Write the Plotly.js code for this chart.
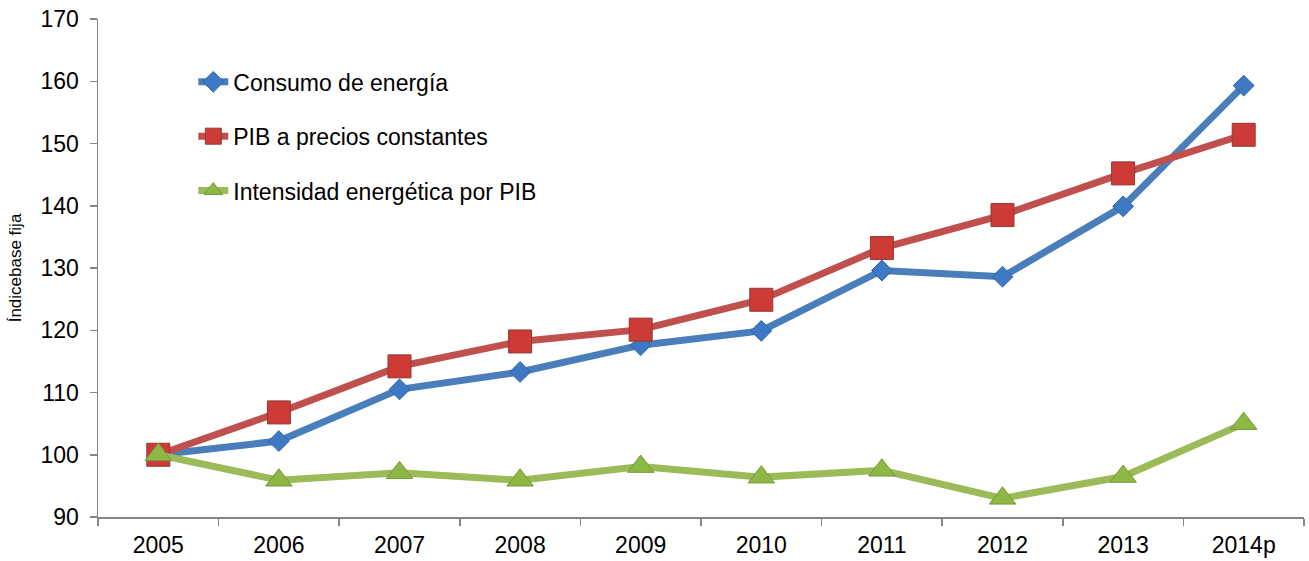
<!DOCTYPE html>
<html>
<head>
<meta charset="utf-8">
<script src="https://cdn.plot.ly/plotly-3.0.1.min.js"></script>
<style>html,body{margin:0;padding:0;background:#fff;}#chart{width:1309px;height:561px;}</style>
</head>
<body>
<div id="chart"></div>
<script>
const years = ["2005","2006","2007","2008","2009","2010","2011","2012","2013","2014p"];
const consumoEnergia = [100, 102.2, 110.5, 113.3, 117.6, 119.9, 129.6, 128.6, 139.9, 159.3];
const pibConstantes = [100, 106.8, 114.2, 118.2, 120.1, 124.9, 133.2, 138.5, 145.2, 151.4];
const intensidad = [100, 95.9, 97.1, 95.9, 98.1, 96.4, 97.5, 93.0, 96.5, 105.0];
const seriesNames = ["Consumo de energía", "PIB a precios constantes", "Intensidad energética por PIB"];

const FONT = "Liberation Sans, Arial, sans-serif";

const traces = [
  {
    x: years, y: consumoEnergia, name: seriesNames[0], type: "scatter", mode: "lines+markers",
    legendgroup: "a",
    line: {color: "#4A7EBB", width: 7},
    marker: {symbol: "diamond", size: 16, color: "#3D79C4", line: {color: "#2F62A3", width: 1}}
  },
  {
    x: years, y: pibConstantes, name: seriesNames[1], type: "scatter", mode: "lines+markers",
    legendgroup: "b",
    line: {color: "#C0504D", width: 7},
    marker: {symbol: "square", size: 23, color: "#CE3A35", line: {color: "#8E3A37", width: 1}}
  },
  {
    x: years, y: intensidad, name: seriesNames[2], type: "scatter", mode: "lines+markers",
    legendgroup: "c",
    line: {color: "#9BBB59", width: 7},
    marker: {symbol: "triangle-up", size: 23, color: "#8DB846", line: {color: "#76993A", width: 1}}
  }
];

const layout = {
  width: 1309, height: 561,
  margin: {l: 98, r: 5, t: 19, b: 44, pad: 0},
  paper_bgcolor: "#ffffff", plot_bgcolor: "#ffffff",
  font: {family: FONT, size: 22, color: "#000000"},
  showlegend: true,
  legend: {
    x: 0.079, xanchor: "left", y: 0.917, yanchor: "top",
    bgcolor: "rgba(0,0,0,0)", borderwidth: 0,
    font: {family: FONT, size: 23, color: "#000000"},
    tracegroupgap: 21.5, traceorder: "grouped"
  },
  xaxis: {
    type: "category", range: [-0.5, 9.5],
    showgrid: false, zeroline: false,
    showline: true, linecolor: "#868686", linewidth: 1.5,
    ticks: "outside", tickson: "boundaries", ticklen: 7, tickcolor: "#868686", tickwidth: 1.5,
    ticklabelstandoff: 7,
    tickfont: {family: FONT, size: 23, color: "#000000"},
    fixedrange: true
  },
  yaxis: {
    range: [90, 170], dtick: 10, tick0: 90,
    showgrid: false, zeroline: false,
    showline: true, linecolor: "#868686", linewidth: 1.5,
    ticks: "outside", ticklen: 7, tickcolor: "#868686", tickwidth: 1.5,
    ticklabelstandoff: 6,
    tickfont: {family: FONT, size: 23, color: "#000000"},
    title: {text: "Índicebase fija", font: {family: FONT, size: 17, color: "#000000"}, standoff: 14},
    fixedrange: true
  }
};

Plotly.newPlot("chart", traces, layout, {displayModeBar: false, staticPlot: true});
</script>
</body>
</html>
